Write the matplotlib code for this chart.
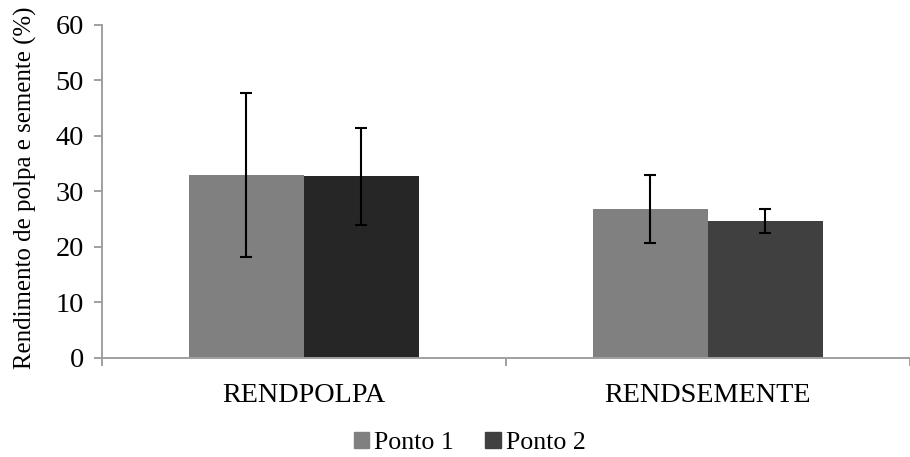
import numpy as np
import matplotlib
matplotlib.use("Agg")
import matplotlib.pyplot as plt

# valores
categorias = ["RENDPOLPA", "RENDSEMENTE"]
ponto1 = [33.0, 26.8]
ponto2 = [32.7, 24.6]
erro_ponto1 = [14.8, 6.1]
erro_ponto2 = [8.8, 2.2]
cores_ponto1 = ["#808080", "#808080"]
cores_ponto2 = ["#262626", "#404040"]
yticks = [0, 10, 20, 30, 40, 50, 60]

plt.rcParams['font.family'] = ['Liberation Serif', 'DejaVu Serif']

fig = plt.figure(figsize=(9.1, 4.57), dpi=100)
ax = fig.add_axes([0.1118, 0.2173, 0.888, 0.728])

x = np.arange(len(categorias))
w = 0.285
ax.bar(x - w / 2, ponto1, w, color=cores_ponto1, label="Ponto 1", zorder=2)
ax.bar(x + w / 2, ponto2, w, color=cores_ponto2, label="Ponto 2", zorder=2)
ax.errorbar(x - w / 2, ponto1, yerr=erro_ponto1, fmt='none', ecolor='black',
            elinewidth=1.5, capsize=4.5, capthick=1.5, zorder=3)
ax.errorbar(x + w / 2, ponto2, yerr=erro_ponto2, fmt='none', ecolor='black',
            elinewidth=1.5, capsize=4.5, capthick=1.5, zorder=3)

ax.set_ylim(0, 60)
ax.set_yticks(yticks)
ax.set_xlim(-0.5, 1.474)
ax.set_xticks(x)
ax.set_xticklabels(categorias)
ax.set_xticks([-0.5, 0.5, 1.5], minor=True)
ax.tick_params(axis='x', which='major', length=0, labelsize=20.3, pad=18)
ax.tick_params(axis='x', which='minor', length=6, width=1.4, color='#a0a0a0')
ax.tick_params(axis='y', length=6, width=1.4, color='#a0a0a0', labelsize=20.3, pad=7)

for s in ['top', 'right']:
    ax.spines[s].set_visible(False)
for s in ['left', 'bottom']:
    ax.spines[s].set_color('#a0a0a0')
    ax.spines[s].set_linewidth(1.4)

fig.text(25 / 910, 1 - 188 / 457, "Rendimento de polpa e semente (%)", fontsize=17.9,
         rotation=90, ha='center', va='center')

h1 = plt.Rectangle((0, 0), 1, 1, color="#808080")
h2 = plt.Rectangle((0, 0), 1, 1, color="#404040")
fig.legend([h1, h2], ["Ponto 1", "Ponto 2"], loc='center', bbox_to_anchor=(0.516, 0.031),
           ncol=2, frameon=False, fontsize=18.6, handlelength=0.6, handleheight=0.6,
           handletextpad=0.2, columnspacing=1.2)

fig.savefig("out.png", dpi=100)
